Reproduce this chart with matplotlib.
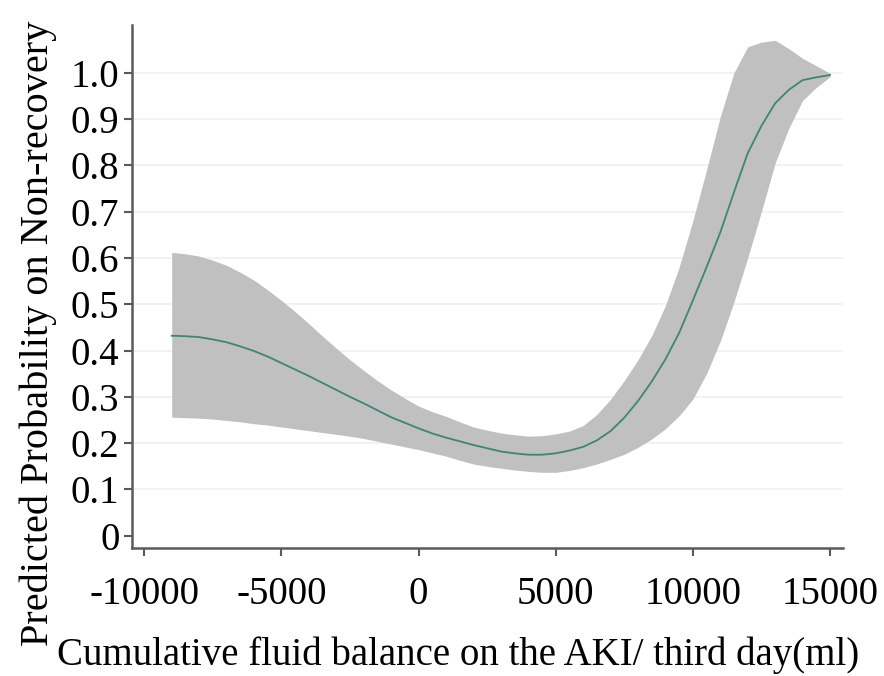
import numpy as np
import matplotlib
matplotlib.use("Agg")
import matplotlib.pyplot as plt

plt.rcParams['font.family'] = ['Liberation Serif', 'DejaVu Serif']

# predicted probability and 95% band
fluid = [-9000, -8500, -8000, -7500, -7000, -6500, -6000, -5500, -5000, -4500,
         -4000, -3500, -3000, -2500, -2000, -1500, -1000, -500, 0, 500,
         1000, 1500, 2000, 2500, 3000, 3500, 4000, 4500, 5000, 5500,
         6000, 6500, 7000, 7500, 8000, 8500, 9000, 9500, 10000, 10500,
         11000, 11500, 12000, 12500, 13000, 13500, 14000, 14500, 15000]
prob = [0.432, 0.431, 0.429, 0.424, 0.418, 0.409, 0.399, 0.387, 0.373, 0.359,
        0.345, 0.330, 0.315, 0.300, 0.286, 0.271, 0.256, 0.244, 0.232, 0.221,
        0.212, 0.204, 0.196, 0.189, 0.182, 0.178, 0.175, 0.175, 0.178, 0.184,
        0.192, 0.206, 0.226, 0.255, 0.291, 0.333, 0.381, 0.438, 0.508, 0.580,
        0.655, 0.742, 0.826, 0.885, 0.934, 0.963, 0.984, 0.990, 0.995]
upper = [0.612, 0.609, 0.604, 0.595, 0.584, 0.569, 0.552, 0.531, 0.508, 0.484,
         0.458, 0.431, 0.405, 0.380, 0.357, 0.335, 0.315, 0.297, 0.280, 0.268,
         0.258, 0.246, 0.235, 0.228, 0.222, 0.218, 0.215, 0.216, 0.220, 0.226,
         0.238, 0.262, 0.295, 0.335, 0.380, 0.432, 0.497, 0.580, 0.680, 0.790,
         0.905, 1.000, 1.056, 1.066, 1.070, 1.052, 1.031, 1.015, 0.999]
lower = [0.256, 0.255, 0.254, 0.252, 0.249, 0.246, 0.242, 0.239, 0.235, 0.231,
         0.227, 0.223, 0.219, 0.215, 0.210, 0.204, 0.198, 0.192, 0.186, 0.179,
         0.172, 0.163, 0.155, 0.150, 0.146, 0.142, 0.139, 0.137, 0.137, 0.141,
         0.147, 0.155, 0.165, 0.176, 0.191, 0.209, 0.231, 0.259, 0.295, 0.350,
         0.420, 0.505, 0.600, 0.700, 0.805, 0.880, 0.940, 0.968, 0.991]

xticks = [-10000, -5000, 0, 5000, 10000, 15000]
yticks = [0, 0.1, 0.2, 0.3, 0.4, 0.5, 0.6, 0.7, 0.8, 0.9, 1.0]
ylabels = ['0', '0.1', '0.2', '0.3', '0.4', '0.5', '0.6', '0.7', '0.8', '0.9', '1.0']

fig = plt.figure(figsize=(8.84, 6.76), dpi=100)
ax = fig.add_axes([0.1493, 0.1893, 0.8043, 0.7737])

for v in yticks[1:]:
    ax.axhline(v, color='#eef1ee', lw=1.2, zorder=0)

ax.fill_between(fluid, lower, upper, color='#c0c0c0', lw=0, zorder=1)
ax.plot(fluid, prob, color='#3f8576', lw=1.3, zorder=2)

ax.set_xlim(-10448, 15474)
ax.set_ylim(-0.0265, 1.103)
ax.set_xticks(xticks)
ax.set_xticklabels([str(t) for t in xticks])
ax.set_yticks(yticks)
ax.set_yticklabels(ylabels)

for s in ['top', 'right']:
    ax.spines[s].set_visible(False)
for s in ['left', 'bottom']:
    ax.spines[s].set_color('#5a5a5a')
    ax.spines[s].set_linewidth(1.8)

ax.tick_params(axis='x', length=6, width=1.5, color='#5a5a5a', labelsize=28, pad=14)
ax.tick_params(axis='y', length=6, width=1.5, color='#5a5a5a', labelsize=28, pad=3)

ax.set_xlabel('Cumulative fluid balance on the AKI/ third day(ml)', fontsize=28)
ax.xaxis.set_label_coords(0.459, -0.2046)
ax.xaxis.label.set_va('center')
ax.set_ylabel('Predicted Probability on Non-recovery', fontsize=29)
ax.yaxis.set_label_coords(-0.132, 0.41)
ax.yaxis.label.set_va('center')

fig.savefig('out.png', dpi=100)
